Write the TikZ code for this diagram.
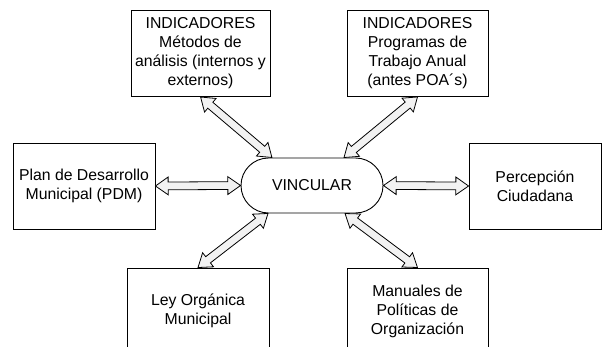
\documentclass[tikz,border=0pt]{standalone}
\usepackage{fontspec}
\setmainfont{Liberation Sans}
\usetikzlibrary{shapes.arrows,shapes.misc,calc}

\tikzset{
  caja/.style={draw, line width=0.9pt, align=center, inner sep=0pt,
    minimum height=86pt, font=\fontsize{15.8}{19}\selectfont},
  nucleo/.style={draw, rounded rectangle, line width=0.9pt, inner sep=0pt,
    minimum width=142pt, minimum height=55pt, font=\fontsize{15.8}{19}\selectfont},
  flecha/.style={draw, double arrow, line width=0.8pt, fill=black!5,
    inner xsep=0pt, inner ysep=3.5pt, text height=0pt, text depth=0pt,
    double arrow head extend=5pt, double arrow tip angle=70}
}

\begin{document}
\begin{tikzpicture}[x=1pt, y=-1pt]

    % Marco de la figura
    \path[use as bounding box, clip] (0,0) rectangle (602,347);

    % Nodo central
    \node[nucleo] (vin) at (312,185.5) {VINCULAR};

    % Cajas de arriba
    \node[caja, minimum width=139pt] (ind1) at (200.5,53.5)
        {INDICADORES\\ Métodos de\\ análisis (internos y\\ externos)};
    \node[caja, minimum width=141pt] (ind2) at (417.5,53.5)
        {INDICADORES\\ Programas de\\ Trabajo Anual\\ (antes POA´s)};

    % Cajas de los lados
    \node[caja, minimum width=142pt] (pdm) at (84,186)
        {Plan de Desarrollo\\ Municipal (PDM)};
    \node[caja, minimum width=132pt] (per) at (535,186)
        {Percepción\\ Ciudadana};

    % Cajas de abajo
    \node[caja, minimum width=142pt] (ley) at (198,311)
        {Ley Orgánica\\ Municipal};
    \node[caja, minimum width=141pt] (man) at (417.5,311)
        {Manuales de\\ Políticas de\\ Organización};

    % Puntos de llegada sobre el nodo central
    \coordinate (v1) at ($(vin.north)+(-40,0)$);
    \coordinate (v2) at ($(vin.north)+(32,0)$);
    \coordinate (v3) at ($(vin.south)+(-44,0)$);
    \coordinate (v4) at ($(vin.south)+(33,0)$);

    % Flechas dobles
    \foreach \a/\b in {ind1.south/v1, ind2.south/v2, ley.north/v3, man.north/v4,
                       pdm.east/vin.west, vin.east/per.west}
        \path let \p1=($(\b)-(\a)$), \n1={veclen(\x1,\y1)} in
            (\a) -- (\b) node[flecha, midway, sloped, minimum height=\n1] {};

\end{tikzpicture}
\end{document}
